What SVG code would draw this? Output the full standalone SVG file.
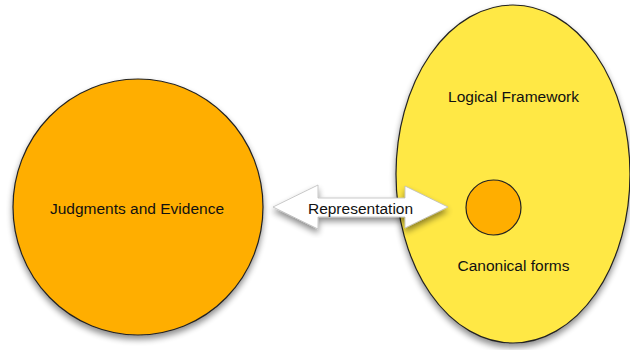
<svg xmlns="http://www.w3.org/2000/svg" width="630" height="350" viewBox="0 0 630 350">
<defs>
<filter id="sh" x="-20%" y="-20%" width="140%" height="140%">
<feGaussianBlur in="SourceAlpha" stdDeviation="3"/>
<feOffset dx="0" dy="4" result="b"/>
<feComponentTransfer><feFuncA type="linear" slope="0.45"/></feComponentTransfer>
<feMerge><feMergeNode/><feMergeNode in="SourceGraphic"/></feMerge>
</filter>
</defs>
<style>
.lbl{font-family:"Liberation Sans",Arial,sans-serif;font-size:15.5px;fill:#111;text-anchor:middle;dominant-baseline:central}
.orange{fill:#FFAE00;stroke:#222;stroke-width:1.2}
.yellow{fill:#FFE845;stroke:#222;stroke-width:1.2}
</style>
<rect width="630" height="350" fill="#fff"/>
<g id="logical-framework">
<ellipse class="yellow" cx="513" cy="174" rx="117" ry="169" filter="url(#sh)"/>
<text class="lbl" x="513.5" y="96">Logical Framework</text>
</g>
<g id="canonical-forms">
<circle class="orange" cx="493.5" cy="207.5" r="27.5"/>
<text class="lbl" x="513.5" y="265">Canonical forms</text>
</g>
<g id="judgments">
<ellipse class="orange" cx="138" cy="207" rx="125" ry="128" filter="url(#sh)"/>
<text class="lbl" x="137" y="208">Judgments and Evidence</text>
</g>
<g id="connectors">
<path d="M273,207 L318,185 L318,198 L405,198 L405,186 L448,207 L405,228 L405,217 L318,217 L318,229 Z" fill="#fff" stroke="#bbb" stroke-width="0.8" filter="url(#sh)"/>
<text class="lbl" x="360.5" y="208">Representation</text>
</g>
</svg>
